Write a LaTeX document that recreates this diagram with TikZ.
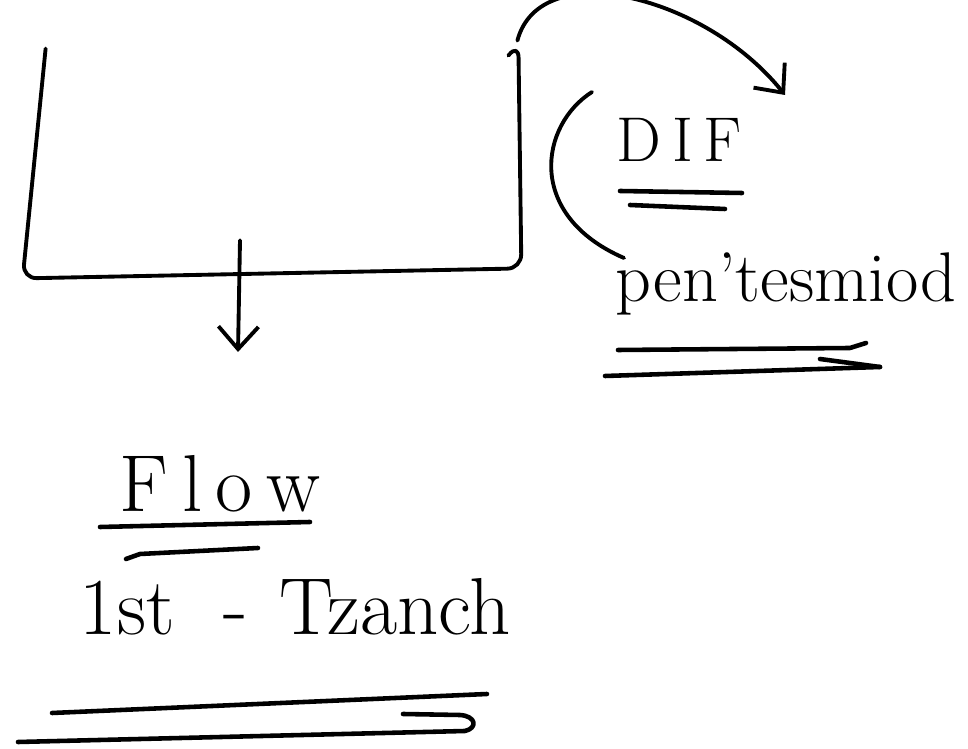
\documentclass[tikz,border=0pt]{standalone}
\usepackage{tikz}
\usetikzlibrary{arrows.meta,calc}

\begin{document}
\begin{tikzpicture}[
  x=0.02cm, y=-0.02cm,
  line width=2.2pt, line cap=round, line join=round,
  >={Straight Barb[length=4.5mm,width=8mm]},
  ink/.style={draw, black},
  ar/.style={->, black},
  word/.style={anchor=base west, inner sep=0pt},
  uline/.style={ink, line width=2.6pt}
]
\useasboundingbox (0,0) rectangle (968,749);
% box
\node[minimum width=9.9cm, minimum height=4.66cm, inner sep=0pt] (box) at (272,162) {};
\draw[ink, rounded corners=8pt] ($(box.north west)+(23,5)$) -- ($(box.south west)+(0,-2)$)
  -- ($(box.south east)+(0,-12)$) -- ($(box.north east)+(-3,0)$) -- ($(box.north east)+(-13,12)$);
% labels
\node[word, font=\fontsize{36}{40}\selectfont] (dif) at (615,162) {D\,I\,F};
\node[word, font=\fontsize{40}{44}\selectfont] (pent) at (614,302) {pen'tesmiod};
\node[word, font=\fontsize{46}{50}\selectfont] (flow) at (118,512) {F\,l\,o\,w};
\node[word, font=\fontsize{46}{50}\selectfont] (first) at (78,635) {1st\hspace{0.6em}-\hspace{0.4em}Tzanch};
% underlines
\draw[uline] (620,191) -- (742,193);
\draw[uline] (630,205) -- (725,209);
\draw[uline] (618,350) -- (850,348) -- (866,343);
\draw[uline] (820,359) -- (880,367);
\draw[uline] (605,376) -- (880,367);
\draw[uline] (100,527) -- (310,522);
\draw[uline] (258,548) -- (140,554) -- (126,559);
\draw[uline] (52,713) -- (487,694);
\draw[uline] (18,742) -- (465,731) .. controls (478,728) and (476,716) .. (460,715) -- (403,714);
% arrows
\coordinate (down) at (238,352);
\coordinate (tip) at (785,95);
\draw[ar] ($(box.south)+(-32,-40)$) -- (down);
\draw[ar] ($(box.north east)+(-4,-3)$) .. controls (540,-45) and (705,-5) .. (tip);
\draw[ink] ($(dif.base west)+(-23,-70)$) .. controls (540,125) and (525,215) .. ($(pent.base west)+(10,-44)$);
\end{tikzpicture}
\end{document}
